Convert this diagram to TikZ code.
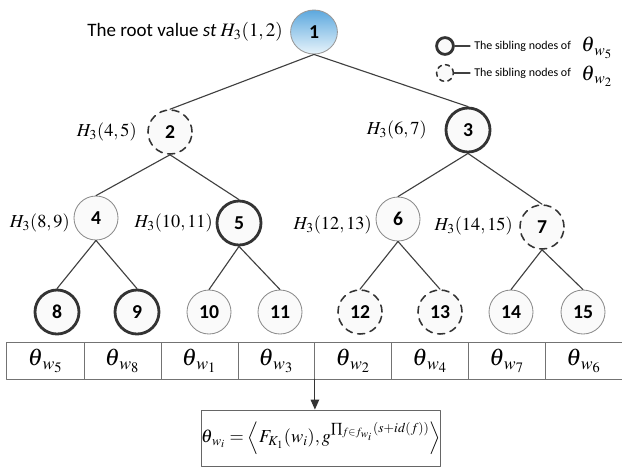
\documentclass[tikz,border=0pt]{standalone}
\usepackage{mathptmx}
\usepackage{fontspec}
\setmainfont{Carlito}
\usetikzlibrary{arrows.meta,shapes.geometric}

\definecolor{rootblue}{RGB}{92,168,222}
\definecolor{rootlight}{RGB}{232,244,251}

\begin{document}
\begin{tikzpicture}[
    x=0.025cm,
    y=-0.025cm,
    line cap=round,
    line join=round,
    edge/.style={line width=0.8pt, draw=black!75},
    plain/.style={
        circle,
        draw=black!45,
        line width=0.6pt,
        fill=black!2,
        minimum size=1.1cm,
        inner sep=0pt,
        font=\fontsize{14}{14}\selectfont\bfseries
    },
    sibling/.style={plain, draw=black!80, line width=2pt},
    hidden/.style={
        plain,
        draw=black!80,
        line width=1.1pt,
        dash pattern=on 5pt off 4pt
    },
    root/.style={
        ellipse,
        draw=black!40,
        line width=0.6pt,
        top color=rootblue,
        bottom color=rootlight,
        minimum width=1.17cm,
        minimum height=1.1cm,
        inner sep=0pt,
        font=\fontsize{14}{14}\selectfont\bfseries
    },
    hlabel/.style={
        anchor=east,
        inner sep=0pt,
        font=\fontsize{13}{13}\selectfont
    },
    cell/.style={
        minimum width=1.9225cm,
        minimum height=0.9cm,
        inner sep=0pt,
        font=\fontsize{17}{17}\selectfont
    },
    grid/.style={draw=black!55, line width=0.6pt},
    legend/.style={
        anchor=west,
        inner sep=0pt,
        font=\fontsize{8.5}{8.5}\selectfont
    },
    legmath/.style={inner sep=0pt, font=\fontsize{15}{15}\selectfont}
]

\useasboundingbox (0,0) rectangle (622,470);

% =========================================================
% Nodes of the tree
% =========================================================

\node[root]    (n1)  at (314,32)  {1};

\node[hidden]  (n2)  at (170,132) {2};
\node[sibling] (n3)  at (468,130) {3};

\node[plain]   (n4)  at (96,218)  {4};
\node[sibling] (n5)  at (239,223) {5};
\node[plain]   (n6)  at (398,219) {6};
\node[hidden]  (n7)  at (542,227) {7};

\node[sibling] (n8)  at (57,312)  {8};
\node[sibling] (n9)  at (137,312) {9};
\node[plain]   (n10) at (209,312) {10};
\node[plain]   (n11) at (280,312) {11};
\node[hidden]  (n12) at (360,312) {12};
\node[hidden]  (n13) at (440,312) {13};
\node[plain]   (n14) at (511,312) {14};
\node[plain]   (n15) at (583,312) {15};

% =========================================================
% Edges of the tree
% =========================================================

\draw[edge] (n1.south) -- (n2.north);
\draw[edge] (n1.south) -- (n3.north);

\draw[edge] (n2.south) -- (n4.north);
\draw[edge] (n2.south) -- (n5.north);
\draw[edge] (n3.south) -- (n6.north);
\draw[edge] (n3.south) -- (n7.north);

\draw[edge] (n4.south) -- (n8.north);
\draw[edge] (n4.south) -- (n9.north);
\draw[edge] (n5.south) -- (n10.north);
\draw[edge] (n5.south) -- (n11.north);
\draw[edge] (n6.south) -- (n12.north);
\draw[edge] (n6.south) -- (n13.north);
\draw[edge] (n7.south) -- (n14.north);
\draw[edge] (n7.south) -- (n15.north);

% =========================================================
% Hash values of the inner nodes
% =========================================================

\node[hlabel, font=\fontsize{13.5}{13.5}\selectfont] (l1) at (283,32)
    {The root value \textit{st} $H_3(1,2)$};

\node[hlabel] (l2) at (137,132) {$H_3(4,5)$};
\node[hlabel] (l3) at (427,130) {$H_3(6,7)$};
\node[hlabel] (l4) at (70,223)  {$H_3(8,9)$};
\node[hlabel] (l5) at (213,223) {$H_3(10,11)$};
\node[hlabel] (l6) at (372,225) {$H_3(12,13)$};
\node[hlabel] (l7) at (513,226) {$H_3(14,15)$};

% =========================================================
% Legend
% =========================================================

\node[sibling, minimum size=0.42cm] (ls) at (445,46) {};
\coordinate (lsend) at (470,46);
\draw[edge] (ls.east) -- (lsend);
\node[legend] (lst) at (474,46) {The sibling nodes of};
\node[legmath] (lsm) at (597,48) {$\theta_{\kern1.5pt w_5}$};

\node[hidden, minimum size=0.42cm, dash pattern=on 3pt off 3pt] (lh) at (445,73) {};
\coordinate (lhend) at (470,73);
\draw[edge] (lh.east) -- (lhend);
\node[legend] (lht) at (474,73) {The sibling nodes of};
\node[legmath] (lhm) at (597,76) {$\theta_{\kern1.5pt w_2}$};

% =========================================================
% Row of leaf values
% =========================================================

\foreach \w [count=\i] in {5,8,1,3,2,4,7,6}
    \node[cell] (c\i) at ({7+76.9*(\i-0.5)},361)
        {$\theta_{\kern1.5pt w_{\w}}$};

\draw[grid, fill=none] (c1.north west) rectangle (c8.south east);
\foreach \i in {1,...,7}
    \draw[grid] (c\i.north east) -- (c\i.south east);

% =========================================================
% Form of one leaf value
% =========================================================

\node[
    draw=black!60,
    line width=0.6pt,
    minimum width=5.85cm,
    minimum height=1.4cm,
    inner sep=0pt,
    font=\fontsize{13}{13}\selectfont
] (fb) at (321,438)
    {$\theta_{\kern1pt w_i}=\left\langle F_{K_1}(w_i),
      g^{\prod_{f\in f_{w_i}}(s+id(f))}\right\rangle$};

\draw[-{Triangle[length=7pt,width=6pt]}, line width=0.8pt, draw=black!80]
    (c4.south east) -- (c4.south east |- fb.north);

\end{tikzpicture}
\end{document}
